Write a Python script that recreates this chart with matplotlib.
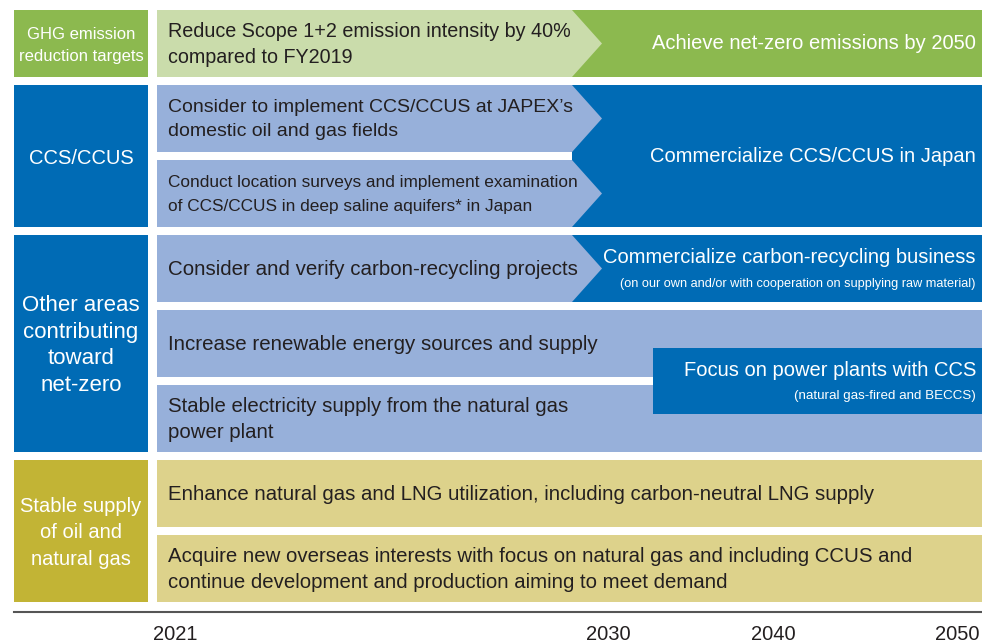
import matplotlib.pyplot as plt
from matplotlib.patches import Rectangle, Polygon

# ---- data ----
categories = ["GHG emission\nreduction targets", "CCS/CCUS",
              "Other areas\ncontributing\ntoward\nnet-zero",
              "Stable supply\nof oil and\nnatural gas"]
cat_rows = [[0], [1, 2], [3, 4, 5], [6, 7]]

near_items = [
    "Reduce Scope 1+2 emission intensity by 40%\ncompared to FY2019",
    "Consider to implement CCS/CCUS at JAPEX\u2019s\ndomestic oil and gas fields",
    "Conduct location surveys and implement examination\nof CCS/CCUS in deep saline aquifers* in Japan",
    "Consider and verify carbon-recycling projects",
    "Increase renewable energy sources and supply",
    "Stable electricity supply from the natural gas\npower plant",
    "Enhance natural gas and LNG utilization, including carbon-neutral LNG supply",
    "Acquire new overseas interests with focus on natural gas and including CCUS and\ncontinue development and production aiming to meet demand",
]
chevron_rows = [0, 1, 2, 3]

long_goals = ["Achieve net-zero emissions by 2050",
              "Commercialize CCS/CCUS in Japan",
              "Commercialize carbon-recycling business",
              "Focus on power plants with CCS"]
long_notes = ["", "", "(on our own and/or with cooperation on supplying raw material)",
              "(natural gas-fired and BECCS)"]
long_rows = [[0], [1, 2], [3], [4, 5]]

years = [2021, 2030, 2040, 2050]
year_x = [175, 608, 773, 957]

# ---- colours ----
c_green = "#8cb94f"
c_lgreen = "#cadcab"
c_blue = "#006bb5"
c_lblue = "#97b0da"
c_olive = "#c2b435"
c_khaki = "#ddd28b"
c_text = "#231f20"
cat_colors = [c_green, c_blue, c_blue, c_olive]
row_colors = [c_lgreen, c_lblue, c_lblue, c_lblue, c_lblue, c_lblue, c_khaki, c_khaki]
goal_colors = [c_green, c_blue, c_blue, c_blue]

plt.rcParams["font.family"] = ["Liberation Sans", "DejaVu Sans"]

fig = plt.figure(figsize=(9.82, 6.44), dpi=100)
ax = fig.add_axes([0, 0, 1, 1])
ax.set_xlim(0, 982)
ax.set_ylim(644, 0)
ax.axis("off")

top0, step, h = 10, 75, 67
left_x0, left_x1 = 14, 148
x0, x_end = 157, 982
base, tip = 572, 602
cat_fs = [12, 14.5, 16, 14.5]
cat_ls = [1.6, 1.3, 1.36, 1.5]
item_fs = [14.2, 14, 12.4, 14.8, 14.8, 14.7, 14.7, 14.7]


def row_top(i):
    return top0 + step * i


# category boxes
for lab, rows, col, fs, ls in zip(categories, cat_rows, cat_colors, cat_fs, cat_ls):
    y0 = row_top(rows[0])
    y1 = row_top(rows[-1]) + h
    ax.add_patch(Rectangle((left_x0, y0), left_x1 - left_x0, y1 - y0, color=col, lw=0))
    ax.text((left_x0 + left_x1) / 2, (y0 + y1) / 2 + 2, lab, color="white", fontsize=fs,
            ha="center", va="center", linespacing=ls)

# long-term goal areas (behind chevrons)
for i, (goal, note, rows, col) in enumerate(zip(long_goals, long_notes, long_rows, goal_colors)):
    y0 = row_top(rows[0])
    y1 = row_top(rows[-1]) + h
    gx = base
    if i == 3:
        mid = (row_top(rows[0]) + h + row_top(rows[-1])) / 2
        y0, y1 = mid - 33, mid + 33
        gx = 653
        ax.add_patch(Rectangle((x0, row_top(rows[0])), x_end - x0, h, color=c_lblue, lw=0))
        ax.add_patch(Rectangle((x0, row_top(rows[-1])), x_end - x0, h, color=c_lblue, lw=0))
    ax.add_patch(Rectangle((gx, y0), x_end - gx, y1 - y0, color=col, lw=0, zorder=2))
    ym = (y0 + y1) / 2
    if note:
        ax.text(976, ym - 11, goal, color="white", fontsize=14.5, ha="right", va="center", zorder=4)
        ax.text(976, ym + 15, note, color="white", fontsize=9.2 if i == 2 else 9.6,
                ha="right", va="center", zorder=4)
    else:
        ax.text(976, ym, goal, color="white", fontsize=14.5, ha="right", va="center", zorder=4)

# near-term items
for i, (txt, col, fs) in enumerate(zip(near_items, row_colors, item_fs)):
    y0 = row_top(i)
    y1 = y0 + h
    ym = (y0 + y1) / 2
    if i in chevron_rows:
        pts = [(x0, y0), (base, y0), (tip, ym), (base, y1), (x0, y1)]
        ax.add_patch(Polygon(pts, closed=True, color=col, lw=0, zorder=3))
    elif i not in (4, 5):
        ax.add_patch(Rectangle((x0, y0), x_end - x0, h, color=col, lw=0, zorder=1))
    ls = 21.1 / fs
    ax.text(168, ym + 1, txt, color=c_text, fontsize=fs, ha="left", va="center",
            linespacing=ls, zorder=4)

# timeline
ax.plot([14, 982], [612, 612], color="#555555", lw=1.5)
for yr, xx in zip(years, year_x):
    ax.text(xx, 634, str(yr), color=c_text, fontsize=14.5, ha="center", va="center")

fig.savefig("out.png", dpi=100)
